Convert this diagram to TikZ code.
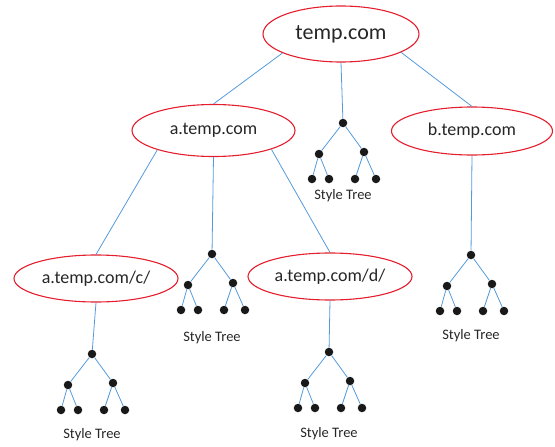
\documentclass[tikz,border=0pt]{standalone}
\usepackage{fontspec}
\setmainfont{Carlito}
\usetikzlibrary{shapes.geometric}
\definecolor{ellred}{RGB}{228,30,45}
\definecolor{linkblue}{RGB}{85,155,220}
\tikzset{
  site/.style={ellipse, draw=ellred, line width=1.1pt, inner sep=0pt, text=black!85},
  link/.style={draw=linkblue, line width=0.8pt},
  dot/.style={circle, fill=black!90, inner sep=0pt, minimum size=8.5pt},
  treelabel/.style={font=\fontsize{14.5}{16}\selectfont, text=black!85, inner sep=0pt}
}
\newcommand\styletree[4]{%
  \node[dot] (#1r) at (#2,#3) {};
  \node[dot] (#1a) at (#2-24,#3+31) {};
  \node[dot] (#1b) at (#2+21,#3+29) {};
  \node[dot] (#1a1) at (#2-31,#3+56) {};
  \node[dot] (#1a2) at (#2-14,#3+56) {};
  \node[dot] (#1b1) at (#2+12,#3+56) {};
  \node[dot] (#1b2) at (#2+33,#3+56) {};
  \draw[link] (#1r) -- (#1a) (#1r) -- (#1b)
    (#1a) -- (#1a1) (#1a) -- (#1a2) (#1b) -- (#1b1) (#1b) -- (#1b2);
  \node[treelabel] (#1lab) at (#2,#3+#4) {Style Tree};
}
\begin{document}
\begin{tikzpicture}[x=1pt,y=-1pt]
\useasboundingbox (0,0) rectangle (555,447);
\node[site, minimum width=156pt, minimum height=56pt, font=\fontsize{22}{24}\selectfont] (top) at (341,34) {temp.com};
\node[site, minimum width=163pt, minimum height=52pt, font=\fontsize{18}{20}\selectfont] (a) at (213.5,130.5) {a.temp.com};
\node[site, minimum width=161pt, minimum height=48pt, font=\fontsize{18}{20}\selectfont] (b) at (472,131) {b.temp.com};
\node[site, minimum width=164pt, minimum height=47pt, font=\fontsize{18}{20}\selectfont] (c) at (96,278.5) {a.temp.com/c/};
\node[site, minimum width=164pt, minimum height=47pt, font=\fontsize{18}{20}\selectfont] (d) at (330,276.5) {a.temp.com/d/};
\styletree{m}{343}{123}{73}
\styletree{t}{212}{254}{84}
\styletree{u}{471}{255}{81}
\styletree{v}{92}{354}{81}
\styletree{w}{329}{352}{82}
\draw[link] (top.198) -- (a.north);
\draw[link] (top.south) -- (mr);
\draw[link] (top.343) -- (b.north);
\draw[link] (a.199) -- (c.north);
\draw[link] (a.south) -- (tr);
\draw[link] (a.342) -- (d.north);
\draw[link] (b.south) -- (ur);
\draw[link] (c.south) -- (vr);
\draw[link] (d.south) -- (wr);
\end{tikzpicture}
\end{document}
